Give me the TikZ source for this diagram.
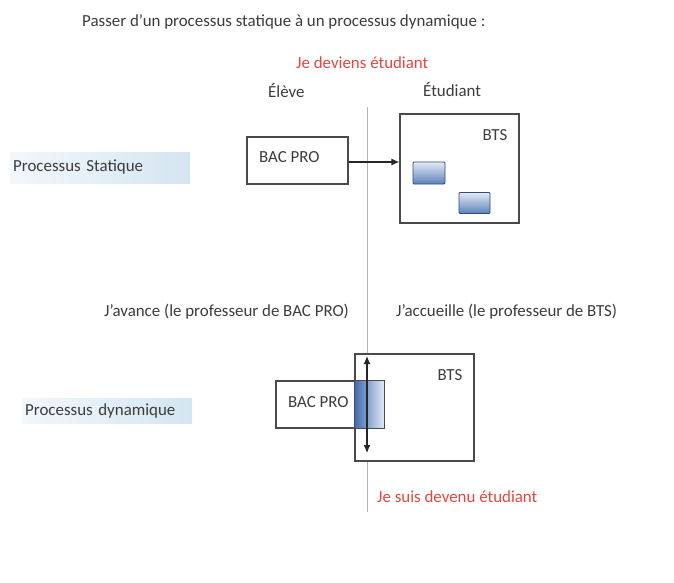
\documentclass[tikz,border=0pt]{standalone}
\usepackage{fontspec}
\setmainfont{Carlito}
\usepackage{xcolor}
\usepackage{tikz}
\usetikzlibrary{arrows.meta}

\definecolor{txtgray}{HTML}{3C3C3C}
\definecolor{boxgray}{HTML}{4A4A4A}
\definecolor{linegray}{HTML}{B4B4B4}
\definecolor{redtxt}{HTML}{E8463C}
\definecolor{bandL}{HTML}{F2F7FB}
\definecolor{bandR}{HTML}{D4E6F1}
\definecolor{blueD}{HTML}{3F6AB0}
\definecolor{blueL}{HTML}{E4EBF6}
\definecolor{blueE}{HTML}{2E4C80}

\begin{document}
\begin{tikzpicture}[x=1pt,y=-1pt,
    every node/.style={font=\fontsize{16.9}{19}\selectfont,text=txtgray,inner sep=0pt},
    box/.style={draw=boxgray,line width=1.2pt,fill=white},
    band/.style={left color=bandL,right color=bandR,inner sep=3pt,align=left},
    red label/.style={text=redtxt},
    square/.style={draw=blueE,line width=0.8pt,top color=blueL,bottom color=blueD!85,
      minimum width=32pt,minimum height=22pt,rounded corners=1pt},
    arrow/.style={-{Latex[length=8pt,width=7pt]},line width=1.2pt,draw=black!85}]
  \fill[white] (0,0) rectangle (674,582);
  \useasboundingbox (0,0) rectangle (674,582);

  % titres
  \node[anchor=west] (titre) at (82,22) {Passer d'un processus statique à un processus dynamique :};
  \node[anchor=west,red label] (devient) at (296,63) {Je deviens étudiant};
  \node[anchor=west] (eleve) at (268,90) {Élève};
  \node[anchor=west] (etudiant) at (423,90) {Étudiant};

  % ligne de separation
  \coordinate (haut) at (367,107);
  \coordinate (bas) at (367,512);
  \draw[linegray,line width=0.8pt] (haut) -- (bas);

  % processus statique
  \node[band,anchor=west,text width=174pt,minimum height=31pt] (statique) at (10,167.5) {Processus Statique};
  \node[box,minimum width=101pt,minimum height=47pt] (bac1) at (297.5,160.5) {};
  \node[anchor=west] (bac1txt) at (259,157) {BAC PRO};
  \node[box,minimum width=119pt,minimum height=109pt] (bts1) at (459.5,168.5) {};
  \node (bts1txt) at (495,135) {BTS};
  \node[square] (sq1) at (429,173) {};
  \node[square,minimum width=31pt,minimum height=21pt] (sq2) at (474.5,203) {};
  \draw[arrow] (bac1.east |- 0,162) -- (bts1.west |- 0,162);

  % roles
  \node[anchor=east] (avance) at (349,312) {J'avance (le professeur de BAC PRO)};
  \node[anchor=west] (accueille) at (396,312) {J'accueille (le professeur de BTS)};

  % processus dynamique
  \node[band,anchor=west,text width=164pt,minimum height=25pt] (dynamique) at (22,410.5) {Processus dynamique};
  \node[box,minimum width=119pt,minimum height=107pt] (bts2) at (414.5,407.5) {};
  \node (bts2txt) at (450,375) {BTS};
  \node[box,minimum width=108pt,minimum height=47pt] (bac2) at (330,404.5) {};
  \node[anchor=west] (bac2txt) at (288,402) {BAC PRO};
  \shade[left color=blueD,right color=blueL] (bts2.west |- bac2.north) rectangle (bac2.south east);
  \draw[boxgray,line width=1.2pt] (bts2.west |- bac2.north) rectangle (bac2.south east);
  \coordinate (fhaut) at (367,356);
  \coordinate (fbas) at (367,453);
  \draw[arrow,{Latex[length=8pt,width=7pt]}-{Latex[length=8pt,width=7pt]}] (fhaut) -- (fbas);
  \node[anchor=west,red label] (devenu) at (377,497) {Je suis devenu étudiant};
\end{tikzpicture}
\end{document}
